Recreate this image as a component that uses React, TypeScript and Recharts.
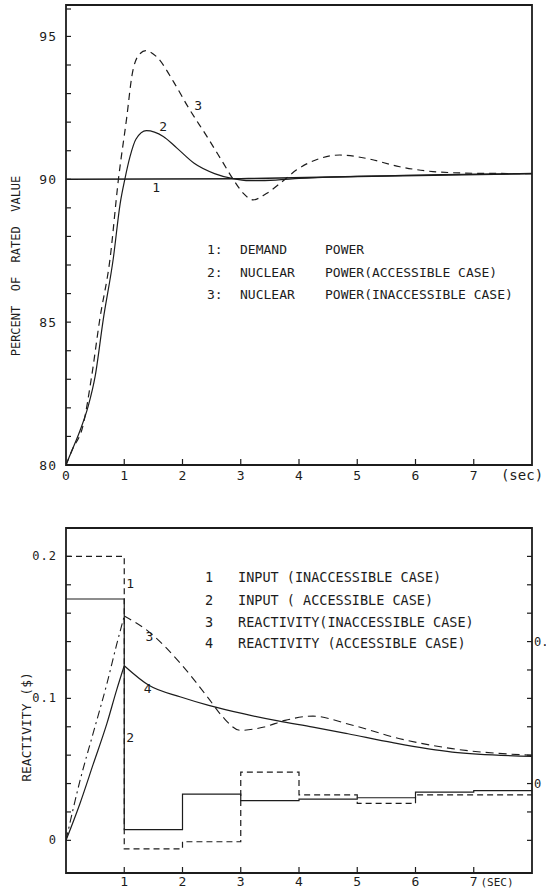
import { LineChart, Line, XAxis, YAxis, ReferenceArea, ReferenceDot } from 'recharts';

const FONT = '"DejaVu Sans Mono", monospace';
const INK = '#1c1c1c';

// ---- upper panel: power response (% of rated value) ----
const demandPower = [
  { t: 0, v: 90 }, { t: 3, v: 90.02 }, { t: 5, v: 90.1 }, { t: 8, v: 90.2 },
];
const powerAccessible = [
  { t: 0, v: 80 }, { t: 0.1, v: 80.5 }, { t: 0.24, v: 81.2 }, { t: 0.38, v: 82.05 },
  { t: 0.5, v: 83.1 }, { t: 0.64, v: 85.1 }, { t: 0.81, v: 87.2 }, { t: 0.93, v: 89.15 },
  { t: 1.01, v: 90.0 }, { t: 1.1, v: 90.8 }, { t: 1.2, v: 91.4 }, { t: 1.38, v: 91.7 },
  { t: 1.67, v: 91.5 }, { t: 1.9, v: 91.1 }, { t: 2.2, v: 90.56 }, { t: 2.55, v: 90.2 },
  { t: 2.85, v: 90.03 }, { t: 3.15, v: 89.95 }, { t: 3.6, v: 89.97 }, { t: 4.0, v: 90.03 },
  { t: 5, v: 90.1 }, { t: 8, v: 90.2 },
];
const powerInaccessible = [
  { t: 0, v: 80 }, { t: 0.1, v: 80.5 }, { t: 0.3, v: 81.45 }, { t: 0.44, v: 83.1 },
  { t: 0.58, v: 85.1 }, { t: 0.755, v: 87.2 }, { t: 0.9, v: 90.0 }, { t: 1.045, v: 92.2 },
  { t: 1.13, v: 93.6 }, { t: 1.25, v: 94.35 }, { t: 1.37, v: 94.5 }, { t: 1.55, v: 94.3 },
  { t: 1.85, v: 93.4 }, { t: 2.09, v: 92.55 }, { t: 2.45, v: 91.4 }, { t: 2.69, v: 90.6 },
  { t: 2.87, v: 90.0 }, { t: 3.05, v: 89.5 }, { t: 3.21, v: 89.28 }, { t: 3.44, v: 89.5 },
  { t: 3.7, v: 89.9 }, { t: 3.96, v: 90.33 }, { t: 4.36, v: 90.73 }, { t: 4.7, v: 90.85 },
  { t: 5.16, v: 90.73 }, { t: 5.73, v: 90.44 }, { t: 6.3, v: 90.27 }, { t: 7.05, v: 90.21 },
  { t: 8, v: 90.2 },
];
const powerTicks = [80, 81, 82, 83, 84, 85, 86, 87, 88, 89, 90, 91, 92, 93, 94, 95, 96];
const powerTickLabels: Record<string, string> = { '80': '80', '85': '85', '90': '90', '95': '95' };
const powerCurveTags = [
  { t: 1.55, v: 89.7, tag: '1' },
  { t: 1.67, v: 91.85, tag: '2' },
  { t: 2.27, v: 92.6, tag: '3' },
];

// ---- lower panel: reactivity ($) ----
const stepTimes = [0, 1, 2, 3, 4, 5, 6, 7, 8];
const inputInaccessible = [0.2, -0.006, -0.001, 0.048, 0.032, 0.026, 0.032, 0.032, 0.032];
const inputAccessible = [0.17, 0.0075, 0.0325, 0.028, 0.029, 0.03, 0.034, 0.035, 0.035];
const reactivityInaccessible = [
  { t: 0, v: 0 }, { t: 0.24, v: 0.042 }, { t: 0.47, v: 0.076 }, { t: 0.7, v: 0.11 },
  { t: 0.87, v: 0.138 }, { t: 1, v: 0.158 }, { t: 1.43, v: 0.1467 }, { t: 1.97, v: 0.1244 },
  { t: 2.45, v: 0.0998 }, { t: 2.69, v: 0.087 }, { t: 2.99, v: 0.0775 }, { t: 3.4, v: 0.0798 },
  { t: 3.76, v: 0.0845 }, { t: 4.24, v: 0.0875 }, { t: 4.84, v: 0.082 }, { t: 5.73, v: 0.0716 },
  { t: 6.63, v: 0.0646 }, { t: 8, v: 0.0599 },
];
const reactivityAccessible = [
  { t: 0, v: 0 }, { t: 0.24, v: 0.026 }, { t: 0.47, v: 0.054 }, { t: 0.7, v: 0.082 },
  { t: 0.87, v: 0.106 }, { t: 1, v: 0.123 }, { t: 1.43, v: 0.109 }, { t: 1.97, v: 0.101 },
  { t: 2.45, v: 0.0951 }, { t: 3.04, v: 0.0892 }, { t: 3.64, v: 0.0841 }, { t: 4.24, v: 0.0798 },
  { t: 4.84, v: 0.0751 }, { t: 5.61, v: 0.0688 }, { t: 6.63, v: 0.0622 }, { t: 8, v: 0.0592 },
];
const reactTicks = [0, 0.02, 0.04, 0.06, 0.08, 0.1, 0.12, 0.14, 0.16, 0.18, 0.2];
const reactTickLabels: Record<string, string> = { '0': '0', '0.1': '0.1', '0.2': '0.2' };
const inputAxisTicks = [-0.04, -0.02, 0, 0.02, 0.04, 0.06, 0.08, 0.1, 0.12, 0.14, 0.16];
const inputAxisLabels: Record<string, string> = { '0': '0', '0.1': '0.1' };
const reactCurveTags = [
  { t: 1.1, v: 0.181, tag: '1' },
  { t: 1.1, v: 0.0725, tag: '2' },
  { t: 1.43, v: 0.144, tag: '3' },
  { t: 1.4, v: 0.107, tag: '4' },
];
const timeTicks = [0, 1, 2, 3, 4, 5, 6, 7, 8];

const toSteps = (vals: number[]) => stepTimes.map((t, i) => ({ t, v: vals[i] }));

const leftTick = (labels: Record<string, string>, size: number) => (p: any) => {
  const label = labels[String(p.payload.value)];
  return (
    <g>
      <line x1={p.x} y1={p.y} x2={p.x + 5} y2={p.y} stroke={INK} strokeWidth={1.2} />
      {label && (
        <text x={p.x - 9} y={p.y} textAnchor="end" dominantBaseline="central"
          fontFamily={FONT} fontSize={size} fill={INK} letterSpacing={1}>
          {label}
        </text>
      )}
    </g>
  );
};

const rightTick = (p: any) => {
  const label = inputAxisLabels[String(p.payload.value)];
  return (
    <g>
      <line x1={p.x} y1={p.y} x2={p.x - 5} y2={p.y} stroke={INK} strokeWidth={1.2} />
      {label && (
        <text x={p.x + 2} y={p.y} textAnchor="start" dominantBaseline="central"
          fontFamily={FONT} fontSize={12} fill={INK}>
          {label}
        </text>
      )}
    </g>
  );
};

const bottomTick = (unit: string, unitShift: number, unitSize: number, showZero: boolean, dy: number) =>
  (p: any) => {
    const v = p.payload.value;
    if (v === 8) {
      return (
        <text x={p.x + unitShift} y={p.y + dy} textAnchor="middle" fontFamily={FONT}
          fontSize={unitSize} fill={INK}>{unit}</text>
      );
    }
    return (
      <g>
        {v !== 0 && <line x1={p.x} y1={p.y} x2={p.x} y2={p.y - 6} stroke={INK} strokeWidth={1.2} />}
        {(v !== 0 || showZero) && (
          <text x={p.x} y={p.y + dy} textAnchor="middle" fontFamily={FONT} fontSize={13} fill={INK}>
            {v}
          </text>
        )}
      </g>
    );
  };

const tagLabel = (tag: string) => ({
  value: tag, position: 'center' as const, fontFamily: FONT, fontSize: 13, fill: INK,
});

const textStyle = (size: number): React.CSSProperties => ({
  position: 'absolute', fontFamily: FONT, fontSize: size, color: INK,
  whiteSpace: 'pre', lineHeight: '14px',
});

export default function App() {
  return (
    <div style={{ position: 'absolute', left: 0, top: 0, width: 546, height: 891, background: '#fff', overflow: 'hidden' }}>
      <div style={{ position: 'absolute', left: 0, top: 0 }}>
        <LineChart width={546} height={490} margin={{ top: 5, right: 14, left: 36, bottom: 0 }}>
          <XAxis type="number" dataKey="t" domain={[0, 8]} ticks={timeTicks} height={25}
            axisLine={false} tickLine={false} tickSize={0} tickMargin={0}
            tick={bottomTick('(sec)', -10, 14, true, 15)} allowDataOverflow />
          <YAxis type="number" domain={[80, 96.1]} ticks={powerTicks} width={30}
            axisLine={false} tickLine={false} tickSize={0} tickMargin={0}
            tick={leftTick(powerTickLabels, 13)} allowDataOverflow />
          <ReferenceArea x1={0} x2={8} y1={80} y2={96.1} fill="none" stroke={INK} strokeWidth={1.8} />
          <Line data={demandPower} dataKey="v" type="linear" stroke={INK} strokeWidth={1.6}
            dot={false} isAnimationActive={false} />
          <Line data={powerAccessible} dataKey="v" type="monotone" stroke={INK} strokeWidth={1.2}
            dot={false} isAnimationActive={false} />
          <Line data={powerInaccessible} dataKey="v" type="monotone" stroke={INK} strokeWidth={1.2}
            strokeDasharray="7 5" dot={false} isAnimationActive={false} />
          {powerCurveTags.map((c) => (
            <ReferenceDot key={c.tag} x={c.t} y={c.v} r={0} stroke="none" label={tagLabel(c.tag)} />
          ))}
        </LineChart>
      </div>

      <div style={{ position: 'absolute', left: 0, top: 500 }}>
        <LineChart width={546} height={391} margin={{ top: 28, right: 0, left: 36, bottom: 0 }}>
          <XAxis type="number" dataKey="t" domain={[0, 8]} ticks={timeTicks} height={18}
            axisLine={false} tickLine={false} tickSize={0} tickMargin={0}
            tick={bottomTick('(SEC)', -35, 11, false, 13)} allowDataOverflow />
          <YAxis yAxisId="left" type="number" domain={[-0.023, 0.22]} ticks={reactTicks} width={30}
            axisLine={false} tickLine={false} tickSize={0} tickMargin={0}
            tick={leftTick(reactTickLabels, 12)} allowDataOverflow />
          <YAxis yAxisId="right" orientation="right" type="number" domain={[-0.063, 0.18]}
            ticks={inputAxisTicks} width={14} axisLine={false} tickLine={false} tickSize={0}
            tickMargin={0} tick={rightTick} allowDataOverflow />
          <ReferenceArea yAxisId="left" x1={0} x2={8} y1={-0.023} y2={0.22} fill="none"
            stroke={INK} strokeWidth={1.8} />
          <Line yAxisId="left" data={toSteps(inputInaccessible)} dataKey="v" type="stepAfter"
            stroke={INK} strokeWidth={1.2} strokeDasharray="6 4" dot={false} isAnimationActive={false} />
          <Line yAxisId="left" data={toSteps(inputAccessible)} dataKey="v" type="stepAfter"
            stroke={INK} strokeWidth={1.2} dot={false} isAnimationActive={false} />
          <Line yAxisId="left" data={reactivityInaccessible.filter((p) => p.t <= 1)} dataKey="v"
            type="monotone" stroke={INK} strokeWidth={1.1} strokeDasharray="8 4 2 4" dot={false}
            isAnimationActive={false} />
          <Line yAxisId="left" data={reactivityInaccessible.filter((p) => p.t >= 1)} dataKey="v"
            type="monotone" stroke={INK} strokeWidth={1.1} strokeDasharray="8 5" dot={false}
            isAnimationActive={false} />
          <Line yAxisId="left" data={reactivityAccessible.filter((p) => p.t <= 1)} dataKey="v"
            type="monotone" stroke={INK} strokeWidth={1.2} dot={false} isAnimationActive={false} />
          <Line yAxisId="left" data={reactivityAccessible.filter((p) => p.t >= 1)} dataKey="v"
            type="monotone" stroke={INK} strokeWidth={1.2} dot={false} isAnimationActive={false} />
          {reactCurveTags.map((c) => (
            <ReferenceDot key={c.tag} yAxisId="left" x={c.t} y={c.v} r={0} stroke="none"
              label={tagLabel(c.tag)} />
          ))}
        </LineChart>
      </div>

      {/* axis titles */}
      <div style={{ ...textStyle(12), left: 16, top: 266, transform: 'translate(-50%, -50%) rotate(-90deg)' }}>
        PERCENT  OF  RATED  VALUE
      </div>
      <div style={{ ...textStyle(13), left: 27, top: 727, transform: 'translate(-50%, -50%) rotate(-90deg)' }}>
        REACTIVITY ($)
      </div>

      {/* upper legend */}
      <div style={{ ...textStyle(13), left: 207, top: 243 }}>1:</div>
      <div style={{ ...textStyle(13), left: 240, top: 243 }}>DEMAND</div>
      <div style={{ ...textStyle(13), left: 325, top: 243 }}>POWER</div>
      <div style={{ ...textStyle(13), left: 207, top: 266 }}>2:</div>
      <div style={{ ...textStyle(13), left: 240, top: 266 }}>NUCLEAR</div>
      <div style={{ ...textStyle(13), left: 325, top: 266 }}>POWER(ACCESSIBLE CASE)</div>
      <div style={{ ...textStyle(13), left: 207, top: 288 }}>3:</div>
      <div style={{ ...textStyle(13), left: 240, top: 288 }}>NUCLEAR</div>
      <div style={{ ...textStyle(13), left: 325, top: 288 }}>POWER(INACCESSIBLE CASE)</div>

      {/* lower legend */}
      <div style={{ ...textStyle(13.5), left: 205, top: 570 }}>1</div>
      <div style={{ ...textStyle(13.5), left: 238, top: 570 }}>INPUT (INACCESSIBLE CASE)</div>
      <div style={{ ...textStyle(13.5), left: 205, top: 593 }}>2</div>
      <div style={{ ...textStyle(13.5), left: 238, top: 593 }}>INPUT ( ACCESSIBLE CASE)</div>
      <div style={{ ...textStyle(13.5), left: 205, top: 615 }}>3</div>
      <div style={{ ...textStyle(13.5), left: 238, top: 615 }}>REACTIVITY(INACCESSIBLE CASE)</div>
      <div style={{ ...textStyle(13.5), left: 205, top: 636 }}>4</div>
      <div style={{ ...textStyle(13.5), left: 238, top: 636 }}>REACTIVITY (ACCESSIBLE CASE)</div>
    </div>
  );
}
